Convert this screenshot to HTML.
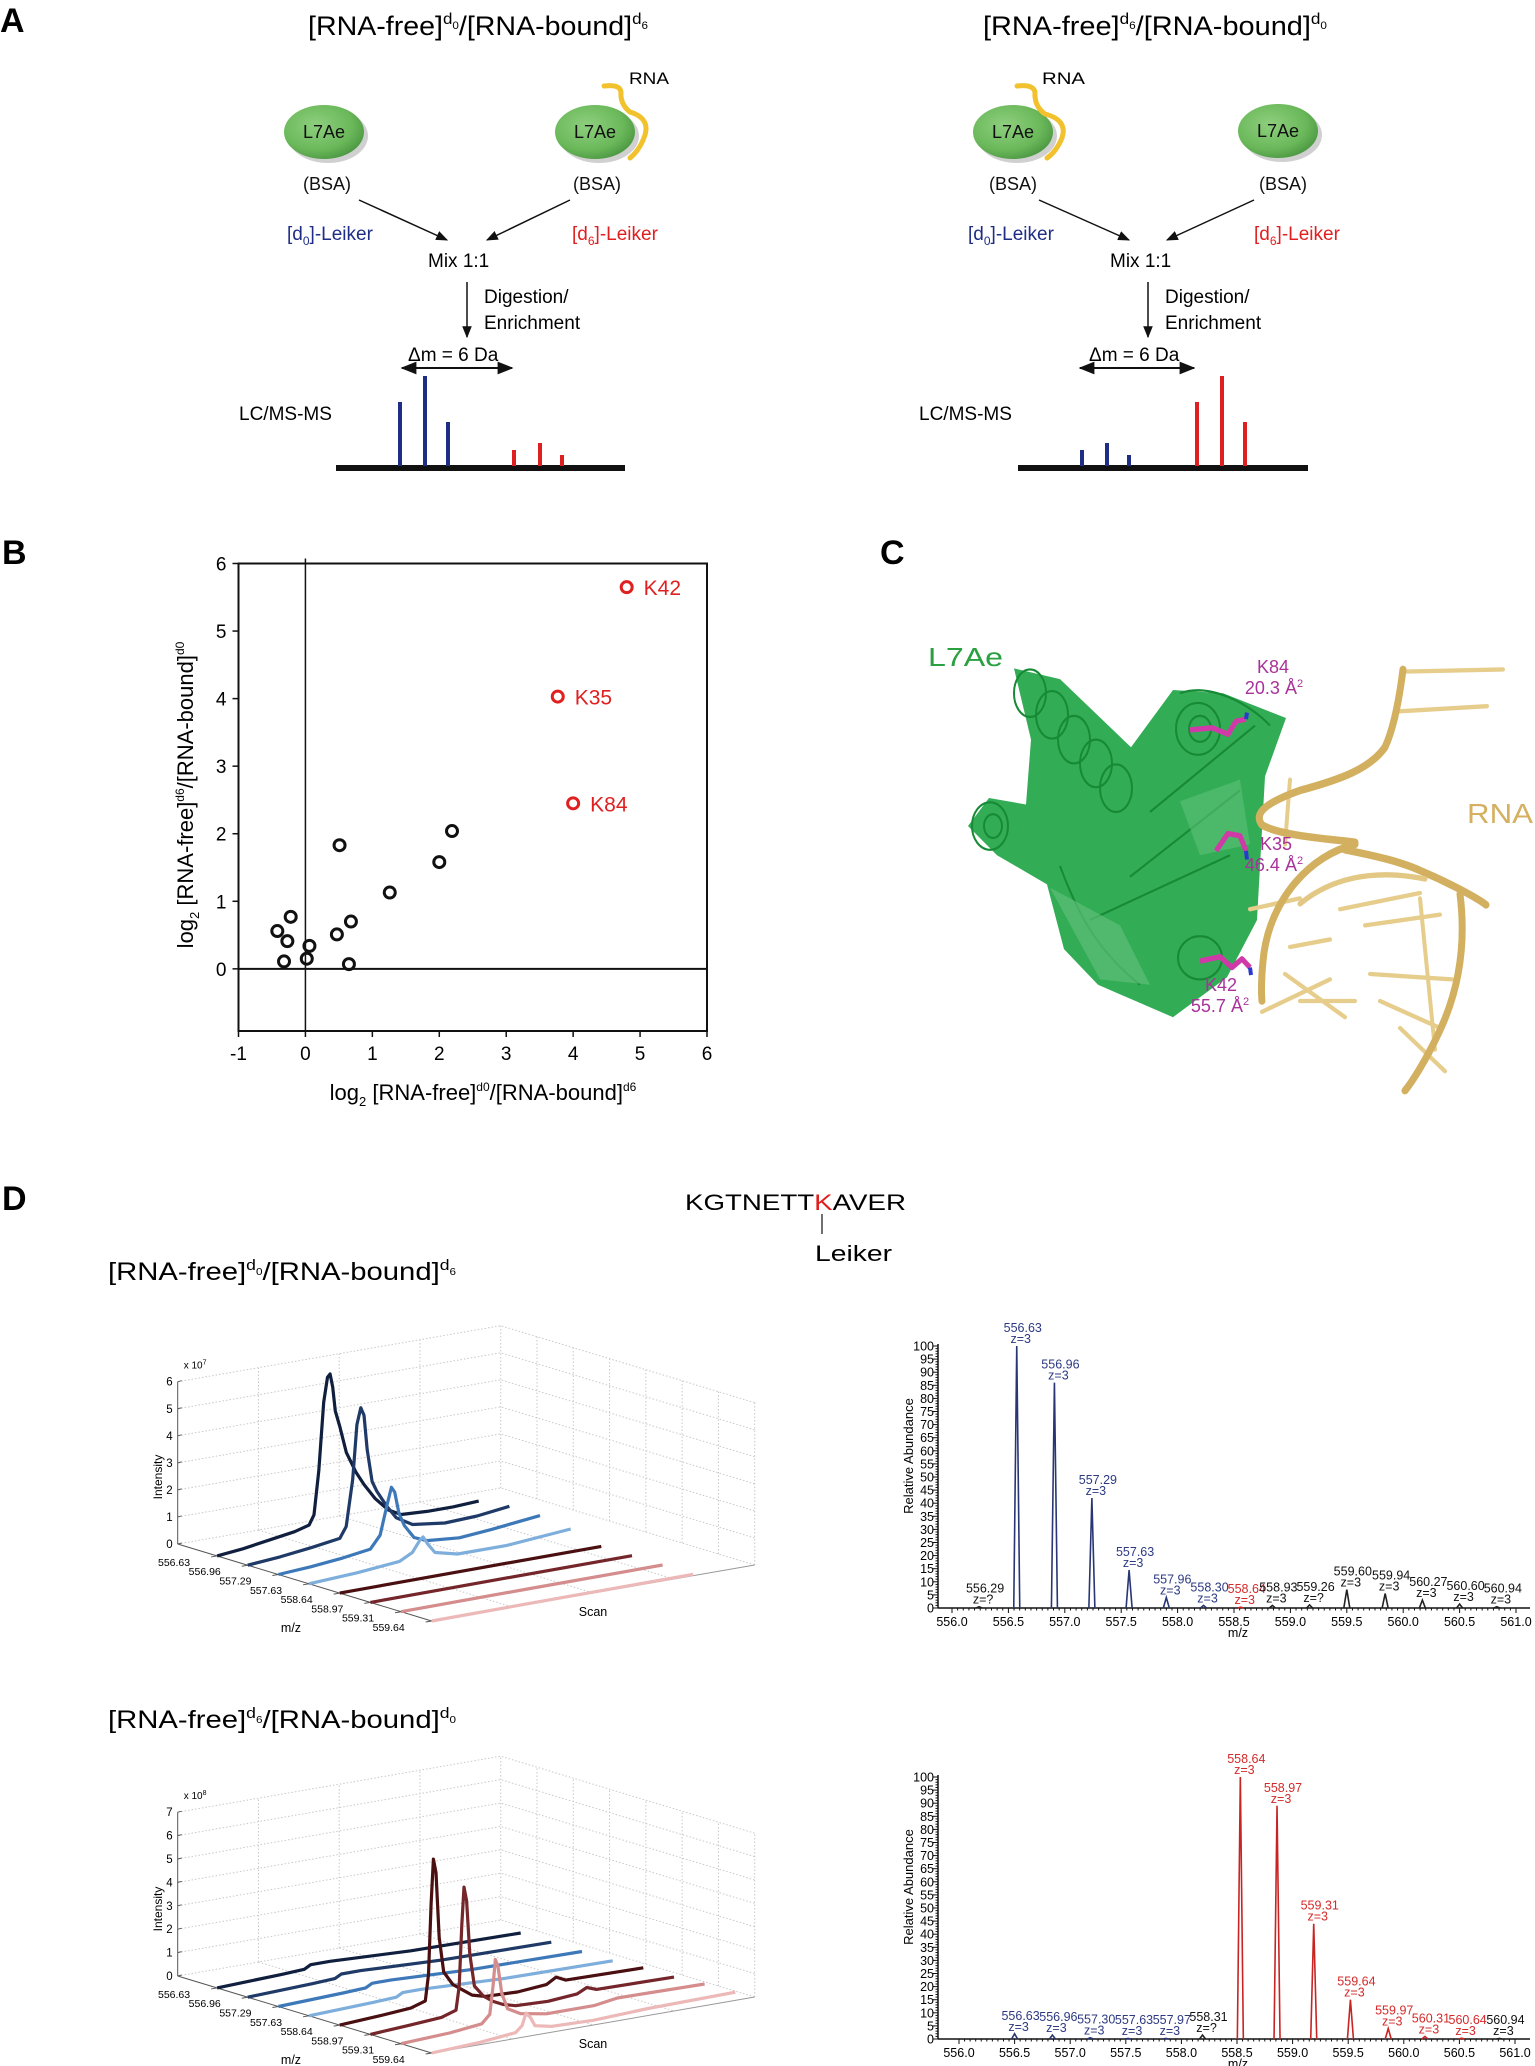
<!DOCTYPE html>
<html><head><meta charset="utf-8">
<style>
html,body{margin:0;padding:0;background:#fff;}
svg{display:block;font-family:"Liberation Sans",Arial,sans-serif;}
</style></head>
<body>
<svg id="fig" xmlns="http://www.w3.org/2000/svg" width="1535" height="2066" viewBox="0 0 1535 2066">
<defs>
<radialGradient id="gball" cx="40%" cy="38%" r="65%">
<stop offset="0" stop-color="#8fcf7e"/><stop offset="0.7" stop-color="#6ab85a"/><stop offset="1" stop-color="#4e9a44"/>
</radialGradient>
<marker id="ah" viewBox="0 0 10 10" refX="9" refY="5" markerWidth="8" markerHeight="8" orient="auto-start-reverse"><path d="M0,1 L10,5 L0,9 z" fill="#111"/></marker>
</defs>

<!-- ================= PANEL A ================= -->
<g>
<text x="0" y="32" font-size="34" font-weight="bold">A</text>
<text x="308" y="35" font-size="27" textLength="340" lengthAdjust="spacingAndGlyphs">[RNA-free]<tspan font-size="16" dy="-11">d</tspan><tspan font-size="11" dy="5">0</tspan><tspan font-size="27" dy="6">/[RNA-bound]</tspan><tspan font-size="16" dy="-11">d</tspan><tspan font-size="11" dy="5">6</tspan></text>
<text x="983" y="35" font-size="27" textLength="344" lengthAdjust="spacingAndGlyphs">[RNA-free]<tspan font-size="16" dy="-11">d</tspan><tspan font-size="11" dy="5">6</tspan><tspan font-size="27" dy="6">/[RNA-bound]</tspan><tspan font-size="16" dy="-11">d</tspan><tspan font-size="11" dy="5">0</tspan></text>

<g>
<ellipse cx="328" cy="136" rx="40" ry="27" fill="#777" opacity="0.35"/>
<ellipse cx="324" cy="132" rx="40" ry="27" fill="url(#gball)"/>
<ellipse cx="599" cy="136" rx="40" ry="27" fill="#777" opacity="0.35"/>
<ellipse cx="595" cy="132" rx="40" ry="27" fill="url(#gball)"/>
<ellipse cx="1017" cy="136" rx="40" ry="27" fill="#777" opacity="0.35"/>
<ellipse cx="1013" cy="132" rx="40" ry="27" fill="url(#gball)"/>
<ellipse cx="1282" cy="135" rx="40" ry="27" fill="#777" opacity="0.35"/>
<ellipse cx="1278" cy="131" rx="40" ry="27" fill="url(#gball)"/>
</g>
<g font-size="18" text-anchor="middle" fill="#111">
<text x="324" y="138">L7Ae</text>
<text x="595" y="138">L7Ae</text>
<text x="1013" y="138">L7Ae</text>
<text x="1278" y="137">L7Ae</text>
</g>
<path d="M604,86 Q620,84 621,92 Q620,104 630,112 Q650,118 645,135 Q640,150 630,158" fill="none" stroke="#f2c12e" stroke-width="5" stroke-linecap="round"/>
<path d="M1017,86 Q1033,84 1035,92 Q1034,106 1045,114 Q1068,120 1062,138 Q1056,152 1047,158" fill="none" stroke="#f2c12e" stroke-width="5" stroke-linecap="round"/>
<text x="629" y="84" font-size="17" textLength="40" lengthAdjust="spacingAndGlyphs">RNA</text>
<text x="1042" y="84" font-size="17" textLength="43" lengthAdjust="spacingAndGlyphs">RNA</text>
<g font-size="18" text-anchor="middle" fill="#111">
<text x="327" y="190">(BSA)</text>
<text x="597" y="190">(BSA)</text>
<text x="1013" y="190">(BSA)</text>
<text x="1283" y="190">(BSA)</text>
</g>
<g stroke="#111" stroke-width="1.5" marker-end="url(#ah)">
<line x1="359" y1="200" x2="447" y2="240"/>
<line x1="570" y1="200" x2="487" y2="240"/>
<line x1="1039" y1="200" x2="1129" y2="240"/>
<line x1="1254" y1="200" x2="1167" y2="240"/>
<line x1="467" y1="282" x2="467" y2="337"/>
<line x1="1148" y1="282" x2="1148" y2="337"/>
</g>
<g font-size="19">
<text x="287" y="240" fill="#1f2d86">[d<tspan font-size="12" dy="5">0</tspan><tspan dy="-5">]-Leiker</tspan></text>
<text x="572" y="240" fill="#e02020">[d<tspan font-size="12" dy="5">6</tspan><tspan dy="-5">]-Leiker</tspan></text>
<text x="968" y="240" fill="#1f2d86">[d<tspan font-size="12" dy="5">0</tspan><tspan dy="-5">]-Leiker</tspan></text>
<text x="1254" y="240" fill="#e02020">[d<tspan font-size="12" dy="5">6</tspan><tspan dy="-5">]-Leiker</tspan></text>
<text x="428" y="267">Mix 1:1</text>
<text x="1110" y="267">Mix 1:1</text>
<text x="484" y="303">Digestion/</text>
<text x="484" y="329">Enrichment</text>
<text x="1165" y="303">Digestion/</text>
<text x="1165" y="329">Enrichment</text>
<text x="408" y="361">Δm = 6 Da</text>
<text x="1089" y="361">Δm = 6 Da</text>
<text x="239" y="420">LC/MS-MS</text>
<text x="919" y="420">LC/MS-MS</text>
</g>
<g stroke="#111" stroke-width="2" marker-start="url(#ah)" marker-end="url(#ah)">
<line x1="402" y1="368" x2="512" y2="368"/>
<line x1="1080" y1="368" x2="1194" y2="368"/>
</g>
<g>
<rect x="336" y="465" width="289" height="6" fill="#111"/>
<g stroke="#1f2d86" stroke-width="4"><line x1="400" y1="466" x2="400" y2="402"/><line x1="425" y1="466" x2="425" y2="376"/><line x1="448" y1="466" x2="448" y2="422"/></g>
<g stroke="#e02020" stroke-width="4"><line x1="514" y1="466" x2="514" y2="450"/><line x1="540" y1="466" x2="540" y2="443"/><line x1="562" y1="466" x2="562" y2="455"/></g>
</g>
<g>
<rect x="1018" y="465" width="290" height="6" fill="#111"/>
<g stroke="#1f2d86" stroke-width="4"><line x1="1082" y1="466" x2="1082" y2="450"/><line x1="1107" y1="466" x2="1107" y2="443"/><line x1="1129" y1="466" x2="1129" y2="455"/></g>
<g stroke="#e02020" stroke-width="4"><line x1="1197" y1="466" x2="1197" y2="402"/><line x1="1222" y1="466" x2="1222" y2="376"/><line x1="1245" y1="466" x2="1245" y2="422"/></g>
</g>
</g>

<!-- ================= PANEL B ================= -->
<text x="2" y="564" font-size="34" font-weight="bold">B</text>
<g id="scatter"></g>

<!-- ================= PANEL C ================= -->
<g>
<text x="880" y="564" font-size="34" font-weight="bold">C</text>
<g transform="translate(0,650) scale(1,1.08) translate(0,-650)">
<g>
<path d="M1014,667 L1060,677 L1131,740 L1173,687 L1223,690 L1286,713 L1265,767 L1257,900 L1227,953 L1173,990 L1123,970 L1098,960 L1064,927 L1047,867 L997,840 L968,813 L989,787 L1026,793 L1031,733 Z" fill="#22a548" opacity="0.92"/>
<g fill="none" stroke="#178a36" stroke-width="2">
<ellipse cx="1030" cy="690" rx="16" ry="22"/>
<ellipse cx="1052" cy="710" rx="16" ry="22"/>
<ellipse cx="1074" cy="733" rx="16" ry="22"/>
<ellipse cx="1096" cy="755" rx="16" ry="22"/>
<ellipse cx="1116" cy="778" rx="16" ry="22"/>
<ellipse cx="990" cy="813" rx="18" ry="22"/>
<ellipse cx="993" cy="813" rx="9" ry="11"/>
<ellipse cx="1198" cy="723" rx="22" ry="24"/>
<ellipse cx="1200" cy="723" rx="11" ry="12"/>
<ellipse cx="1200" cy="935" rx="22" ry="20"/>
<path d="M1150,800 L1255,720 M1130,860 L1240,780 M1090,900 L1230,840 M1060,850 C1080,900 1100,930 1140,960 M1180,690 C1210,680 1250,700 1270,720"/>
</g>
<path d="M1050,870 L1120,905 L1150,960 L1100,955 Z" fill="#5cbf78" opacity="0.7"/>
<path d="M1180,790 L1240,770 L1250,830 L1200,840 Z" fill="#5cbf78" opacity="0.6"/>
<g stroke="#d03aa8" stroke-width="5" fill="none" stroke-linejoin="round">
<polyline points="1190,724 1212,722 1228,728 1236,716 1246,714"/>
<polyline points="1216,836 1228,820 1240,822 1246,836"/>
<polyline points="1200,938 1220,934 1232,944 1242,936 1250,944"/>
</g>
<g stroke="#2a3ad0" stroke-width="4"><line x1="1246" y1="714" x2="1247" y2="708"/><line x1="1246" y1="836" x2="1247" y2="844"/><line x1="1250" y1="944" x2="1251" y2="951"/></g>
</g>
<g fill="none" stroke-linecap="round">
<g stroke="#e6cd8c" stroke-width="4">
<line x1="1403" y1="670" x2="1503" y2="668"/><line x1="1395" y1="707" x2="1487" y2="702"/>
<line x1="1340" y1="890" x2="1420" y2="875"/><line x1="1365" y1="905" x2="1440" y2="895"/>
<line x1="1290" y1="925" x2="1330" y2="918"/><line x1="1370" y1="950" x2="1452" y2="955"/>
<line x1="1285" y1="950" x2="1345" y2="990"/><line x1="1300" y1="975" x2="1355" y2="975"/>
<line x1="1380" y1="975" x2="1440" y2="1000"/><line x1="1400" y1="1000" x2="1445" y2="1040"/>
<line x1="1420" y1="880" x2="1435" y2="1020"/><line x1="1262" y1="985" x2="1330" y2="955"/>
<line x1="1290" y1="770" x2="1285" y2="830"/><line x1="1250" y1="890" x2="1300" y2="880"/>
</g>
<g stroke="#d2b060" stroke-width="7">
<path d="M1403,668 C1400,690 1395,720 1385,740 C1370,760 1340,770 1300,780 C1270,790 1252,800 1262,812 C1280,822 1330,825 1355,828"/>
<path d="M1355,830 C1310,840 1272,880 1264,930 C1260,960 1262,975 1262,975"/>
<path d="M1345,835 C1372,840 1402,846 1422,855 C1450,866 1478,880 1486,886"/>
<path d="M1460,876 C1466,920 1460,962 1440,1002 C1426,1030 1412,1050 1405,1058"/>
</g>
<path d="M1300,885 C1330,862 1372,852 1425,862" stroke="#e2c884" stroke-width="5"/>
</g>
</g>
<g fill="#a8329a" font-size="18" text-anchor="middle">
<text x="1273" y="673">K84</text>
<text x="1274" y="694">20.3 Å<tspan font-size="11" dy="-7">2</tspan></text>
<text x="1276" y="850">K35</text>
<text x="1274" y="871">46.4 Å<tspan font-size="11" dy="-7">2</tspan></text>
<text x="1221" y="991">K42</text>
<text x="1220" y="1012">55.7 Å<tspan font-size="11" dy="-7">2</tspan></text>
</g>
<text x="928" y="666" font-size="26" fill="#2aa040" textLength="75" lengthAdjust="spacingAndGlyphs">L7Ae</text>
<text x="1467" y="823" font-size="28" fill="#d4b060" textLength="66" lengthAdjust="spacingAndGlyphs">RNA</text>
</g>

<!-- ================= PANEL D ================= -->
<g>
<text x="2" y="1210" font-size="34" font-weight="bold">D</text>
<text x="685" y="1210" font-size="22" textLength="221" lengthAdjust="spacingAndGlyphs">KGTNETT<tspan fill="#e02020">K</tspan>AVER</text>
<line x1="822" y1="1214" x2="822" y2="1234" stroke="#111" stroke-width="1.2"/>
<text x="815" y="1261" font-size="22" textLength="77" lengthAdjust="spacingAndGlyphs">Leiker</text>
<text x="108" y="1280" font-size="25" textLength="348" lengthAdjust="spacingAndGlyphs">[RNA-free]<tspan font-size="15" dy="-10">d</tspan><tspan font-size="10" dy="5">0</tspan><tspan font-size="25" dy="5">/[RNA-bound]</tspan><tspan font-size="15" dy="-10">d</tspan><tspan font-size="10" dy="5">6</tspan></text>
<text x="108" y="1728" font-size="25" textLength="348" lengthAdjust="spacingAndGlyphs">[RNA-free]<tspan font-size="15" dy="-10">d</tspan><tspan font-size="10" dy="5">6</tspan><tspan font-size="25" dy="5">/[RNA-bound]</tspan><tspan font-size="15" dy="-10">d</tspan><tspan font-size="10" dy="5">0</tspan></text>
</g>
<g id="plot3d1"></g>
<g id="plot3d2"></g>
<g id="spec1"></g>
<g id="spec2"></g>
</svg>

<script>
// ---------- Scatter data (panel B) ----------
const scatterX = [-0.42,-0.27,-0.22,-0.32,0.02,0.06,0.47,0.51,0.68,0.65,1.26,2.0,2.19];
const scatterY = [0.56,0.41,0.77,0.11,0.15,0.34,0.51,1.83,0.70,0.07,1.13,1.58,2.04];
const hitNames = ['K42','K35','K84'];
const hitX = [4.8,3.77,4.0];
const hitY = [5.65,4.03,2.45];
const scatterXTicks = [-1,0,1,2,3,4,5,6];
const scatterYTicks = [0,1,2,3,4,5,6];

// ---------- Spectrum 1 data ----------
const spec1MZ = [556.24,556.574,556.908,557.24,557.57,557.90,558.23,558.56,558.84,559.17,559.50,559.84,560.17,560.50,560.83];
const spec1Int = [0.5,100,86,42,14.5,4,1,0.3,1,1.2,7,5.5,3,1.5,0.5];
const spec1Lab = ['556.29','556.63','556.96','557.29','557.63','557.96','558.30','558.64','558.93','559.26','559.60','559.94','560.27','560.60','560.94'];
const spec1Z = ['z=?','z=3','z=3','z=3','z=3','z=3','z=3','z=3','z=3','z=?','z=3','z=3','z=3','z=3','z=3'];
const spec1Col = ['k','b','b','b','b','b','b','r','k','k','k','k','k','k','k'];

// ---------- Spectrum 2 data ----------
const spec2MZ = [556.50,556.84,557.18,557.52,557.86,558.19,558.53,558.86,559.19,559.52,559.86,560.19,560.52,560.86];
const spec2Int = [2,1.5,0.5,0.2,0.2,1.5,100,89,44,15,4,1,0.3,0.2];
const spec2Lab = ['556.63','556.96','557.30','557.63','557.97','558.31','558.64','558.97','559.31','559.64','559.97','560.31','560.64','560.94'];
const spec2Z = ['z=3','z=3','z=3','z=3','z=3','z=?','z=3','z=3','z=3','z=3','z=3','z=3','z=3','z=3'];
const spec2Col = ['b','b','b','b','b','k','r','r','r','r','r','r','r','k'];
const specYTicks = [0,5,10,15,20,25,30,35,40,45,50,55,60,65,70,75,80,85,90,95,100];
const specXTicks = [556.0,556.5,557.0,557.5,558.0,558.5,559.0,559.5,560.0,560.5,561.0];

// ---------- 3D XIC data (scan fraction, intensity) ----------
const mzLabels3d = ['556.63','556.96','557.29','557.63','558.64','558.97','559.31','559.64'];
const p1Ticks = [0,1,2,3,4,5,6];
const p2Ticks = [0,1,2,3,4,5,6,7];
const p1S1 = [[0,0],[0.08,0.1],[0.16,0.25],[0.24,0.4],[0.285,0.55],[0.30,0.9],[0.315,2.5],[0.33,5.0],[0.342,5.9],[0.35,6.0],[0.358,5.5],[0.366,4.6],[0.38,4.0],[0.40,3.0],[0.43,2.2],[0.455,1.7],[0.49,1.1],[0.53,0.6],[0.57,0.35],[0.65,0.3],[0.73,0.3],[0.81,0.35]];
const p1S2 = [[0,0],[0.1,0.1],[0.2,0.25],[0.285,0.4],[0.305,0.8],[0.325,2.5],[0.338,4.5],[0.35,5.1],[0.36,4.8],[0.37,3.5],[0.385,2.3],[0.40,1.9],[0.43,1.3],[0.46,0.8],[0.51,0.45],[0.61,0.3],[0.71,0.35],[0.81,0.5]];
const p1S3 = [[0,0],[0.1,0.08],[0.2,0.2],[0.285,0.35],[0.315,0.8],[0.337,1.9],[0.35,2.5],[0.36,2.3],[0.373,1.5],[0.39,1.0],[0.42,0.5],[0.46,0.3],[0.56,0.2],[0.66,0.3],[0.81,0.5]];
const p1S4 = [[0,0],[0.15,0.1],[0.28,0.25],[0.32,0.5],[0.343,0.9],[0.353,1.0],[0.368,0.7],[0.39,0.35],[0.46,0.15],[0.61,0.15],[0.81,0.35]];
const p1Flat = [[0,0],[0.4,0.03],[0.81,0.05]];
const p2Blue = [[0,0],[0.2,0.1],[0.27,0.15],[0.29,0.3],[0.35,0.3],[0.6,0.15],[0.94,0.1]];
const p2S5 = [[0,0],[0.12,0.1],[0.22,0.2],[0.265,0.4],[0.275,1.5],[0.283,4.5],[0.29,6.4],[0.298,5.8],[0.308,3.0],[0.322,1.5],[0.35,0.9],[0.38,0.6],[0.41,0.3],[0.45,0.15],[0.55,0.1],[0.64,0.2],[0.67,0.45],[0.70,0.25],[0.94,0.2]];
const p2S6 = [[0,0],[0.12,0.1],[0.22,0.2],[0.265,0.4],[0.275,1.4],[0.283,4.0],[0.29,5.6],[0.298,5.0],[0.308,2.7],[0.322,1.3],[0.35,0.8],[0.38,0.5],[0.41,0.3],[0.45,0.15],[0.55,0.1],[0.64,0.2],[0.67,0.4],[0.70,0.25],[0.94,0.2]];
const p2S7 = [[0,0],[0.15,0.1],[0.25,0.25],[0.275,0.6],[0.285,1.8],[0.292,2.9],[0.30,2.6],[0.312,1.4],[0.33,0.7],[0.37,0.4],[0.45,0.2],[0.6,0.2],[0.67,0.35],[0.94,0.3]];
const p2S8 = [[0,0],[0.15,0.1],[0.26,0.25],[0.28,0.5],[0.292,1.0],[0.305,0.8],[0.32,0.4],[0.37,0.25],[0.5,0.2],[0.67,0.3],[0.94,0.35]];
const seriesColors = ['#0f1f3d','#1f3a66','#3d78b8','#7eaedb','#4a0f10','#74262a','#d48c8c','#ecb8b8'];

const NS = 'http://www.w3.org/2000/svg';
function mk(tag, attrs, parent){ const e=document.createElementNS(NS,tag); for(const k in attrs) e.setAttribute(k,attrs[k]); parent.appendChild(e); return e; }
function txt(str, attrs, parent){ const e=mk('text',attrs,parent); e.textContent=str; return e; }

// ===== Scatter =====
(function(){
  const g=document.getElementById('scatter');
  const L=238.5,R=707,T=563.5,B=1031, xmin=-1,xmax=6, ymin=-0.92,ymax=6;
  const sx=v=>L+(v-xmin)/(xmax-xmin)*(R-L);
  const sy=v=>B-(v-ymin)/(ymax-ymin)*(B-T);
  const fr=mk('rect',{x:L,y:T,width:R-L,height:B-T,fill:'none',stroke:'#111','stroke-width':2},g);
  
  
  const vz=mk('line',{x1:sx(0),x2:sx(0),y1:T-5,y2:B,stroke:'#111','stroke-width':1.5},g);
  
  
  const hz=mk('line',{x1:L,x2:R,y1:sy(0),y2:sy(0),stroke:'#111','stroke-width':2},g);
  
  
  scatterXTicks.forEach(v=>{
    mk('line',{x1:sx(v),x2:sx(v),y1:B,y2:B+6,stroke:'#111','stroke-width':1.5},g);
    const t=txt(String(v),{x:sx(v),y:B+29,'font-size':19,'text-anchor':'middle'},g);
    
    
  });
  scatterYTicks.forEach(v=>{
    mk('line',{x1:L-6,x2:L,y1:sy(v),y2:sy(v),stroke:'#111','stroke-width':1.5},g);
    const t=txt(String(v),{x:L-12,y:sy(v)+7,'font-size':19,'text-anchor':'end'},g);
    
    
  });
  const xl=mk('text',{x:483,y:1100,'font-size':22,'text-anchor':'middle'},g);
  xl.innerHTML='log<tspan font-size="13" dy="6">2</tspan><tspan dy="-6"> [RNA-free]</tspan><tspan font-size="12" dy="-9">d0</tspan><tspan dy="9">/[RNA-bound]</tspan><tspan font-size="12" dy="-9">d6</tspan>';
  
  
  const yl=mk('text',{x:0,y:0,'font-size':22,'text-anchor':'middle',transform:'translate(193,795) rotate(-90)'},g);
  yl.innerHTML='log<tspan font-size="13" dy="6">2</tspan><tspan dy="-6"> [RNA-free]</tspan><tspan font-size="12" dy="-9">d6</tspan><tspan dy="9">/[RNA-bound]</tspan><tspan font-size="12" dy="-9">d0</tspan>';
  
  
  scatterX.forEach((v,i)=>{
    const c=mk('circle',{cx:sx(v),cy:sy(scatterY[i]),r:5.5,fill:'none',stroke:'#111','stroke-width':3},g);
    
    
  });
  hitX.forEach((v,i)=>{
    const c=mk('circle',{cx:sx(v),cy:sy(hitY[i]),r:5.5,fill:'none',stroke:'#e02020','stroke-width':3},g);
    
    
    const t=txt(hitNames[i],{x:sx(v)+17,y:sy(hitY[i])+8,'font-size':21,fill:'#e02020'},g);
    
    
  });
})();

// ===== Spectra =====
function drawSpectrum(id, y0, x556, x561, mzs, ints, labs, zs, cols){
  const g=document.getElementById(id);
  const L=938, R=1530, top=y0-262;
  const sx=v=>x556+(v-556)/5*(x561-x556);
  const sy=v=>y0-v*2.62;
  const colMap={b:'#2d3a82',r:'#d42a2a',k:'#111'};
  const peakCol={b:'#283674',r:'#c82424',k:'#222'};
  const ya=mk('line',{x1:L,x2:L,y1:top-2,y2:y0,stroke:'#111','stroke-width':1.5},g);
  
  
  const xa=mk('line',{x1:L,x2:R,y1:y0,y2:y0,stroke:'#111','stroke-width':1.5},g);
  
  
  for(let v=0; v<=100; v+=1){ mk('line',{x1:L-(v%5===0?5:2.5),x2:L,y1:sy(v),y2:sy(v),stroke:'#111','stroke-width':1},g); }
  for(let v=556.0; v<=561.001; v+=0.05){ const maj=Math.abs(v*2-Math.round(v*2))<0.01; mk('line',{x1:sx(v),x2:sx(v),y1:y0,y2:y0+(maj?5:2.5),stroke:'#111','stroke-width':1},g); }
  specYTicks.forEach(v=>{
    const t=txt(String(v),{x:L-4,y:sy(v)+4.5,'font-size':12.5,'text-anchor':'end'},g);
    
    
  });
  specXTicks.forEach(v=>{
    const t=txt(v.toFixed(1),{x:sx(v),y:y0+18,'font-size':12.5,'text-anchor':'middle'},g);
    
    
  });
  const xt=txt('m/z',{x:(L+R)/2+4,y:y0+29,'font-size':12.5,'text-anchor':'middle'},g);
  
  
  const yt=txt('Relative Abundance',{x:0,y:0,'font-size':13,'text-anchor':'middle',transform:`translate(913,${y0-152}) rotate(-90)`},g);
  
  
  mzs.forEach((m,i)=>{
    const x=sx(m), h=ints[i];
    const p=mk('path',{d:`M${x-3},${y0} L${x},${sy(h)} L${x+3},${y0}`,fill:'none',stroke:peakCol[cols[i]],'stroke-width':1.6},g);
    
    
    const ly=Math.min(sy(h)-3, y0-4);
    const t1=txt(labs[i],{x:x+6,y:ly-11,'font-size':12.5,'text-anchor':'middle',fill:colMap[cols[i]]},g);
    
    
    const t2=txt(zs[i],{x:x+4,y:ly,'font-size':12.5,'text-anchor':'middle',fill:colMap[cols[i]]},g);
    
    
  });
}
drawSpectrum('spec1',1608,952,1516,spec1MZ,spec1Int,spec1Lab,spec1Z,spec1Col);
drawSpectrum('spec2',2039,959,1515,spec2MZ,spec2Int,spec2Lab,spec2Z,spec2Col);

// ===== 3D XIC plots =====
function draw3D(id, oy, unit, ticks, expLabel, series){
  const g=document.getElementById(id);
  const ox=177.7, Mx=254, My=77, Sx=323, Sy=-56, zmax=ticks[ticks.length-1];
  const P=(f,s,z)=>[ox+Mx*f+Sx*s, oy+My*f+Sy*s-z*unit];
  const grid={stroke:'#c8c8c8','stroke-width':1,'stroke-dasharray':'1.5,2',fill:'none'};
  ticks.forEach(z=>{
    const a=P(0,0,z),b=P(0,1,z),c=P(1,1,z);
    mk('polyline',Object.assign({points:`${a} ${b} ${c}`},grid),g);
  });
  for(let k=0;k<=7;k++){ const f=k/7; const a=P(f,1,0),b=P(f,1,zmax); mk('line',Object.assign({x1:a[0],y1:a[1],x2:b[0],y2:b[1]},grid),g); }
  for(let k=1;k<=3;k++){ const s=k/4; const a=P(0,s,0),b=P(0,s,zmax); mk('line',Object.assign({x1:a[0],y1:a[1],x2:b[0],y2:b[1]},grid),g); }
  for(let k=1;k<=3;k++){ const s=k/4; const a=P(0,s,0),b=P(1,s,0); mk('line',Object.assign({x1:a[0],y1:a[1],x2:b[0],y2:b[1]},grid),g); }
  const fe1=P(1,0,0), fe2=P(1,1,0);
  mk('line',{x1:fe1[0],y1:fe1[1],x2:fe2[0],y2:fe2[1],stroke:'#999','stroke-width':1},g);
  const z0=P(0,0,0), zt=P(0,0,zmax), m1=P(1,0,0);
  const za=mk('line',{x1:z0[0],y1:z0[1],x2:zt[0],y2:zt[1],stroke:'#555','stroke-width':1},g);
  
  
  const ma=mk('line',{x1:z0[0],y1:z0[1],x2:m1[0],y2:m1[1],stroke:'#555','stroke-width':1},g);
  
  
  ticks.forEach(z=>{
    const p=P(0,0,z);
    mk('line',{x1:p[0],y1:p[1],x2:p[0]+4,y2:p[1]-1,stroke:'#555','stroke-width':1},g);
    const t=txt(String(z),{x:p[0]-5,y:p[1]+4,'font-size':11.5,'text-anchor':'end'},g);
    
    
  });
  const ex=mk('text',{x:zt[0]+6,y:zt[1]-13,'font-size':10},g);
  ex.innerHTML='x 10<tspan font-size="7" dy="-4">'+expLabel+'</tspan>';
  
  
  const il=txt('Intensity',{x:0,y:0,'font-size':12,'text-anchor':'middle',transform:`translate(162,${oy-67}) rotate(-90)`},g);
  
  
  const ml=txt('m/z',{x:291,y:oy+88,'font-size':12.5,'text-anchor':'middle'},g);
  
  
  const sl=txt('Scan',{x:593,y:oy+72,'font-size':12.5,'text-anchor':'middle'},g);
  
  
  series.forEach((ser,k)=>{
    const f=0.155+k*0.1207;
    const s0=P(f,0,0);
    mk('line',{x1:s0[0],y1:s0[1],x2:s0[0]-6,y2:s0[1]+1,stroke:'#555','stroke-width':1},g);
    const t=txt(mzLabels3d[k],{x:s0[0]-43,y:s0[1]+10,'font-size':10.5,'text-anchor':'middle'},g);
    
    
    const pts=ser.map(d=>P(f,d[0],d[1]).map(v=>v.toFixed(1)).join(',')).join(' ');
    const pl=mk('polyline',{points:pts,fill:'none',stroke:seriesColors[k],'stroke-width':3.2,'stroke-linejoin':'round'},g);
    
    
  });
}
draw3D('plot3d1',1544,27.05,p1Ticks,'7',[p1S1,p1S2,p1S3,p1S4,p1Flat,p1Flat,p1Flat,p1Flat]);
draw3D('plot3d2',1976,23.4,p2Ticks,'8',[p2Blue,p2Blue,p2Blue,p2Blue,p2S5,p2S6,p2S7,p2S8]);
</script>
</body></html>
